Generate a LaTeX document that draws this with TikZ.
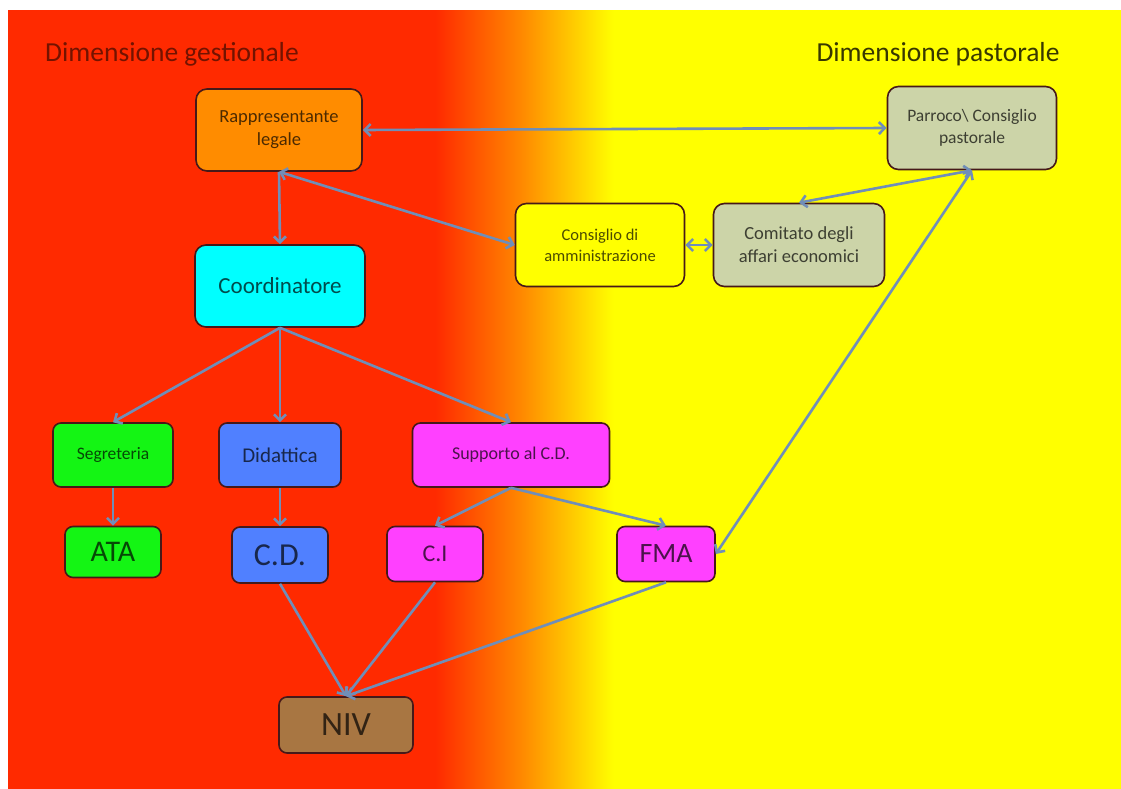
\documentclass[tikz,border=0pt]{standalone}
\usepackage{fontspec}
\setmainfont{Carlito}
\usetikzlibrary{arrows.meta}
\definecolor{bgred}{RGB}{255,42,0}
\definecolor{bgorange}{RGB}{255,135,0}
\definecolor{bgyellow}{RGB}{255,255,0}
\definecolor{linkblue}{RGB}{112,142,184}
\definecolor{boxline}{RGB}{70,25,25}
\definecolor{orangebox}{RGB}{255,140,0}
\definecolor{sagebox}{RGB}{204,212,168}
\definecolor{yellowbox}{RGB}{255,255,0}
\definecolor{cyanbox}{RGB}{0,255,255}
\definecolor{greenbox}{RGB}{20,245,20}
\definecolor{bluebox}{RGB}{80,128,255}
\definecolor{pinkbox}{RGB}{255,64,255}
\definecolor{brownbox}{RGB}{168,118,66}
\pgfdeclarehorizontalshading{bgfade}{100bp}{color(0bp)=(bgred); color(44.2bp)=(bgred);
  color(48bp)=(bgorange); color(52.2bp)=(bgyellow); color(100bp)=(bgyellow)}

\begin{document}
\begin{tikzpicture}[x=1pt,y=-1pt,
    box/.style={draw=boxline,line width=1.6pt,rounded corners=11pt,align=center,
      inner sep=0pt,fill=#1,text=#1!30!black},
    small/.style={rounded corners=8pt},
    link/.style={draw=linkblue,line width=2.6pt,-{Straight Barb[length=6pt,width=12pt]}},
    both/.style={link,{Straight Barb[length=6pt,width=12pt]}-{Straight Barb[length=6pt,width=12pt]}}]
  \useasboundingbox (0,0) rectangle (1121,789);
  % background
  \fill[white] (0,0) rectangle (1121,789);
  \shade[shading=bgfade] (8,11) rectangle (1121,789);
  % titles
  \node[text=bgred!45!black,font={\fontsize{27.5}{32}\selectfont}] (tgest) at (172,54) {Dimensione gestionale};
  \node[text=bgyellow!22!black,font={\fontsize{27.5}{32}\selectfont}] (tpast) at (938,54) {Dimensione pastorale};
  % boxes
  \node[box=orangebox,minimum width=166pt,minimum height=82pt,font={\fontsize{18.5}{23}\selectfont}] (rapp) at (279,130) {Rappresentante\\legale};
  \node[box=sagebox,minimum width=169pt,minimum height=83pt,font={\fontsize{17.5}{22}\selectfont}] (parroco) at (972,128) {Parroco\textbackslash\ Consiglio\\pastorale};
  \node[box=yellowbox,minimum width=169pt,minimum height=83pt,font={\fontsize{16.5}{21}\selectfont}] (cda) at (600,245) {Consiglio di\\amministrazione};
  \node[box=sagebox,minimum width=171pt,minimum height=83pt,font={\fontsize{18.5}{23}\selectfont}] (cae) at (799,245) {Comitato degli\\affari economici};
  \node[box=cyanbox,minimum width=170pt,minimum height=82pt,font={\fontsize{23}{26}\selectfont}] (coord) at (280,286) {Coordinatore};
  \node[box=greenbox,small,minimum width=120pt,minimum height=64pt,font={\fontsize{17.5}{20}\selectfont}] (seg) at (113,455) {Segreteria};
  \node[box=bluebox,small,minimum width=122pt,minimum height=64pt,font={\fontsize{21}{24}\selectfont}] (did) at (280,455) {Didattica};
  \node[box=pinkbox,small,minimum width=197pt,minimum height=64pt,font={\fontsize{18}{21}\selectfont}] (sup) at (511,455) {Supporto al C.D.};
  \node[box=greenbox,small,minimum width=96pt,minimum height=51pt,font={\fontsize{30}{34}\selectfont}] (ata) at (113,552) {ATA};
  \node[box=bluebox,small,minimum width=96pt,minimum height=56pt,font={\fontsize{32}{36}\selectfont}] (cd) at (280,555) {C.D.};
  \node[box=pinkbox,small,minimum width=96pt,minimum height=55pt,font={\fontsize{24}{28}\selectfont}] (ci) at (435,554) {C.I};
  \node[box=pinkbox,small,minimum width=98pt,minimum height=55pt,font={\fontsize{28}{32}\selectfont}] (fma) at (666,554) {FMA};
  \node[box=brownbox,small,minimum width=134pt,minimum height=56pt,font={\fontsize{34}{38}\selectfont}] (niv) at (346,725) {NIV};
  % connectors
  \foreach \a/\b in {rapp.east/parroco.west,rapp.south/cda.west,cda.east/cae.west,
      cae.north/parroco.south,parroco.south/fma.east}
    \draw[both] (\a) -- (\b);
  \foreach \a/\b in {rapp.south/coord.north,coord.south/seg.north,coord.south/did.north,
      coord.south/sup.north,seg.south/ata.north,did.south/cd.north,sup.south/ci.north,
      sup.south/fma.north,cd.south/niv.north,ci.south/niv.north,fma.south/niv.north}
    \draw[link] (\a) -- (\b);
\end{tikzpicture}
\end{document}
